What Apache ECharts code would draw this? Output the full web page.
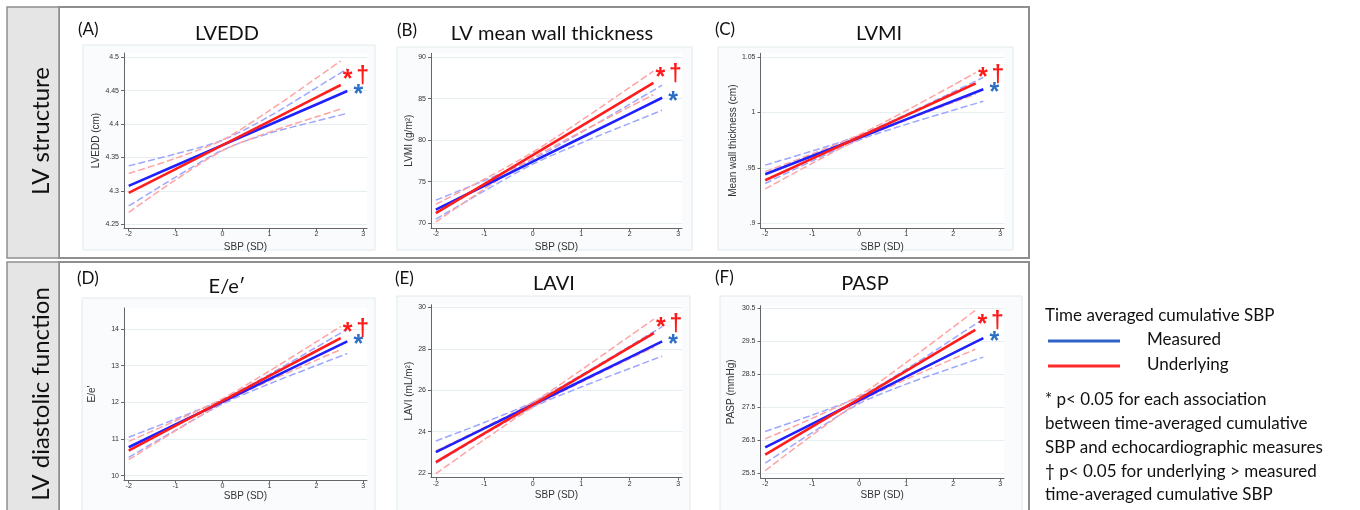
<!DOCTYPE html>
<html><head><meta charset="utf-8">
<script src="https://cdn.jsdelivr.net/npm/echarts@6/dist/echarts.min.js"></script>
<style>html,body{margin:0;padding:0;background:#fff}#c{width:1360px;height:510px}</style>
</head><body><div id="c"></div>
<script>
// ---------- data ----------
const xTicks = [-2, -1, 0, 1, 2, 3];

// (A) LVEDD
const aMX = [-2, -1, 0, 1, 2, 2.66];
const aM = [4.3075, 4.338, 4.3685, 4.399, 4.4294, 4.4495];
const aMLo = [4.2775, 4.3206, 4.361, 4.3863, 4.4045, 4.4161];
const aMHi = [4.3375, 4.3554, 4.376, 4.4117, 4.4543, 4.4829];
const aUX = [-2, -1, 0, 1, 2, 2.52];
const aU = [4.297, 4.3327, 4.3684, 4.4041, 4.4399, 4.4585];
const aULo = [4.268, 4.3166, 4.3604, 4.388, 4.4109, 4.4225];
const aUHi = [4.326, 4.3488, 4.3764, 4.4202, 4.4689, 4.4945];
const aTicks = [4.25, 4.3, 4.35, 4.4, 4.45, 4.5];
const aTickLabels = ['4.25', '4.3', '4.35', '4.4', '4.45', '4.5'];

// (B) LV mean wall thickness
const bMX = [-2, -1, 0, 1, 2, 2.67];
const bM = [71.61, 74.50, 77.40, 80.29, 83.18, 85.12];
const bMLo = [70.46, 73.87, 77.10, 79.66, 82.03, 83.61];
const bMHi = [72.76, 75.13, 77.70, 80.92, 84.33, 86.63];
const bUX = [-2, -1, 0, 1, 2, 2.49];
const bU = [71.2, 74.70, 78.19, 81.69, 85.19, 86.9];
const bULo = [70.13, 74.11, 77.84, 81.01, 84.02, 85.48];
const bUHi = [72.27, 75.29, 78.54, 82.37, 86.36, 88.32];
const bTicks = [70, 75, 80, 85, 90];
const bTickLabels = ['70', '75', '80', '85', '90'];

// (C) LVMI
const cMX = [-2, -1, 0, 1, 2, 2.64];
const cM = [0.9441, 0.9607, 0.9772, 0.9938, 1.0104, 1.021];
const cMLo = [0.9358, 0.9562, 0.9752, 0.9893, 1.0021, 1.0102];
const cMHi = [0.9524, 0.9652, 0.9792, 0.9983, 1.0187, 1.0318];
const cUX = [-2, -1, 0, 1, 2, 2.48];
const cU = [0.9387, 0.9583, 0.9779, 0.9974, 1.017, 1.0264];
const cULo = [0.9309, 0.954, 0.9759, 0.9931, 1.0092, 1.0167];
const cUHi = [0.9465, 0.9626, 0.9799, 1.0017, 1.0248, 1.0361];
const cTicks = [0.9, 0.95, 1, 1.05];
const cTickLabels = ['.9', '.95', '1', '1.05'];

// (D) E/e'
const dMX = [-2, -1, 0, 1, 2, 2.66];
const dM = [10.774, 11.394, 12.014, 12.634, 13.254, 13.663];
const dMLo = [10.50, 11.242, 11.953, 12.505, 13.005, 13.332];
const dMHi = [11.048, 11.546, 12.075, 12.763, 13.503, 13.994];
const dUX = [-2, -1, 0, 1, 2, 2.52];
const dU = [10.683, 11.362, 12.042, 12.721, 13.401, 13.754];
const dULo = [10.433, 11.227, 11.982, 12.586, 13.151, 13.439];
const dUHi = [10.933, 11.497, 12.102, 12.856, 13.651, 14.069];
const dTicks = [10, 11, 12, 13, 14];
const dTickLabels = ['10', '11', '12', '13', '14'];

// (E) LAVI
const eMX = [-2, -1, 0, 1, 2, 2.67];
const eM = [23.014, 24.158, 25.303, 26.447, 27.591, 28.358];
const eMLo = [22.474, 23.869, 25.183, 26.158, 27.051, 27.648];
const eMHi = [23.554, 24.447, 25.423, 26.736, 28.131, 29.068];
const eUX = [-2, -1, 0, 1, 2, 2.5];
const eU = [22.53, 23.914, 25.299, 26.683, 28.068, 28.76];
const eULo = [21.98, 23.62, 25.179, 26.389, 27.518, 28.08];
const eUHi = [23.08, 24.208, 25.419, 26.977, 28.618, 29.44];
const eTicks = [22, 24, 26, 28, 30];
const eTickLabels = ['22', '24', '26', '28', '30'];

// (F) PASP
const fMX = [-2, -1, 0, 1, 2, 2.64];
const fM = [26.278, 26.992, 27.706, 28.42, 29.134, 29.59];
const fMLo = [25.798, 26.726, 27.604, 28.195, 28.698, 29.013];
const fMHi = [26.758, 27.258, 27.808, 28.645, 29.57, 30.167];
const fUX = [-2, -1, 0, 1, 2, 2.47];
const fU = [26.056, 26.903, 27.749, 28.596, 29.442, 29.84];
const fULo = [25.576, 26.648, 27.649, 28.341, 28.962, 29.252];
const fUHi = [26.536, 27.158, 27.849, 28.851, 29.922, 30.428];
const fTicks = [25.5, 26.5, 27.5, 28.5, 29.5, 30.5];
const fTickLabels = ['25.5', '26.5', '27.5', '28.5', '29.5', '30.5'];

const panelTitles = ['LVEDD', 'LV mean wall thickness', 'LVMI', 'E/e\u2032', 'LAVI', 'PASP'];
const panelLetters = ['(A)', '(B)', '(C)', '(D)', '(E)', '(F)'];
const yNames = ['LVEDD (cm)', 'LVMI (g/m\u00b2)', 'Mean wall thickness (cm)', "E/e'", 'LAVI (mL/m\u00b2)', 'PASP (mmHg)'];
const xName = 'SBP (SD)';
const sectionLabels = ['LV structure', 'LV diastolic function'];
const legendTitle = 'Time averaged cumulative SBP';
const legendNames = ['Measured', 'Underlying'];
const footnotes = ['* p< 0.05 for each association', 'between time-averaged cumulative',
  'SBP and echocardiographic measures', '\u2020 p< 0.05 for underlying > measured',
  'time-averaged cumulative SBP'];

const panels = [
  {mX: aMX, m: aM, mLo: aMLo, mHi: aMHi, uX: aUX, u: aU, uLo: aULo, uHi: aUHi, ticks: aTicks, labels: aTickLabels},
  {mX: bMX, m: bM, mLo: bMLo, mHi: bMHi, uX: bUX, u: bU, uLo: bULo, uHi: bUHi, ticks: bTicks, labels: bTickLabels},
  {mX: cMX, m: cM, mLo: cMLo, mHi: cMHi, uX: cUX, u: cU, uLo: cULo, uHi: cUHi, ticks: cTicks, labels: cTickLabels},
  {mX: dMX, m: dM, mLo: dMLo, mHi: dMHi, uX: dUX, u: dU, uLo: dULo, uHi: dUHi, ticks: dTicks, labels: dTickLabels},
  {mX: eMX, m: eM, mLo: eMLo, mHi: eMHi, uX: eUX, u: eU, uLo: eULo, uHi: eUHi, ticks: eTicks, labels: eTickLabels},
  {mX: fMX, m: fM, mLo: fMLo, mHi: fMHi, uX: fUX, u: fU, uLo: fULo, uHi: fUHi, ticks: fTicks, labels: fTickLabels}
];

// ---------- layout / style ----------
const layout = [
  {l: 124, r: 367, t: 53, b: 228, yMin: 4.2445, yMax: 4.5064, yGap: 23, xGap: 14, tx: 227, ty: 34, lx: 78, ly: 30, bg: [83, 45, 375, 250]},
  {l: 431, r: 682, t: 53.3, b: 228, yMin: 69.4, yMax: 90.48, yGap: 14, xGap: 14, tx: 552, ty: 34, lx: 397, ly: 31, bg: [397, 47, 692, 250]},
  {l: 760.5, r: 1004, t: 53.3, b: 228, yMin: 0.8955, yMax: 1.0536, yGap: 22, xGap: 14, tx: 879, ty: 34, lx: 715, ly: 30, bg: [718, 47, 1013, 250]},
  {l: 124, r: 367, t: 308, b: 480, yMin: 9.88, yMax: 14.574, yGap: 27, xGap: 11, tx: 227, ty: 287, lx: 77, ly: 279, bg: [82, 298, 375, 512]},
  {l: 431, r: 682, t: 304.7, b: 477.5, yMin: 21.79, yMax: 30.13, yGap: 17, xGap: 13, tx: 554, ty: 284, lx: 395, ly: 279, bg: [397, 296, 690, 512]},
  {l: 760.5, r: 1004, t: 305.7, b: 478, yMin: 25.35, yMax: 30.57, yGap: 24, xGap: 12, tx: 865, ty: 284, lx: 715, ly: 278, bg: [720, 296, 1022, 512]}
];
const X_MIN = -2.1, X_MAX = 3.08;
const BLUE = '#2020ff', RED = '#ff1c1c', BLUE_CI = '#9ea7ff', RED_CI = '#ffa3a3';
const STAR_BLUE = '#2a6fc4', STAR_RED = '#ff1a1a';
const TICK_FONT = 'Liberation Sans';

const grids = [], xAxes = [], yAxes = [], series = [], graphics = [];

function pairs(xs, ys) { return xs.map((x, i) => [x, ys[i]]); }
function labelFor(p) {
  return v => {
    let best = 0;
    p.ticks.forEach((t, i) => { if (Math.abs(t - v) < Math.abs(p.ticks[best] - v)) best = i; });
    return p.labels[best];
  };
}
function sigMark(xs, ys, items) {
  const n = xs.length - 1;
  return {
    symbol: 'circle', symbolSize: 1, silent: true,
    itemStyle: {color: 'rgba(0,0,0,0)'},
    data: items.map(it => ({
      coord: [xs[n], ys[n]],
      label: {show: true, position: 'inside', formatter: it.t, color: it.c, fontSize: it.s,
        fontWeight: 'bold', fontFamily: 'Liberation Sans', offset: it.o}
    }))
  };
}

panels.forEach((p, i) => {
  const L = layout[i];
  grids.push({left: L.l, top: L.t, width: L.r - L.l, height: L.b - L.t, show: true,
    backgroundColor: '#ffffff', borderWidth: 0, containLabel: false});
  xAxes.push({
    type: 'value', gridIndex: i, min: X_MIN, max: X_MAX,
    name: xName, nameLocation: 'middle', nameGap: L.xGap,
    nameTextStyle: {fontSize: 10, color: '#333', fontFamily: TICK_FONT},
    axisLine: {show: true, onZero: false, lineStyle: {color: '#666', width: 1}},
    axisTick: {show: true, length: 3, customValues: xTicks, lineStyle: {color: '#666'}},
    axisLabel: {customValues: xTicks, fontSize: 7, color: '#333', margin: 3, fontFamily: TICK_FONT},
    splitLine: {show: false}
  });
  yAxes.push({
    type: 'value', gridIndex: i, min: L.yMin, max: L.yMax,
    name: yNames[i], nameLocation: 'middle', nameGap: L.yGap, nameRotate: 90,
    nameTextStyle: {fontSize: 10, color: '#333', fontFamily: TICK_FONT},
    axisLine: {show: true, onZero: false, lineStyle: {color: '#666', width: 1}},
    axisTick: {show: true, length: 3, customValues: p.ticks, lineStyle: {color: '#666'}},
    axisLabel: {customValues: p.ticks, fontSize: 7, color: '#333', margin: 5, fontFamily: TICK_FONT,
      formatter: labelFor(p)},
    splitLine: {show: true, lineStyle: {color: '#e6eef1', width: 1}}
  });
  const base = {type: 'line', xAxisIndex: i, yAxisIndex: i, showSymbol: false, silent: true, animation: false};
  const dash = {type: [7, 3], width: 1.5};
  series.push(Object.assign({}, base, {data: pairs(p.mX, p.mHi), smooth: 0.3, z: 2, lineStyle: Object.assign({color: BLUE_CI}, dash)}));
  series.push(Object.assign({}, base, {data: pairs(p.mX, p.mLo), smooth: 0.3, z: 2, lineStyle: Object.assign({color: BLUE_CI}, dash)}));
  series.push(Object.assign({}, base, {data: pairs(p.uX, p.uHi), smooth: 0.3, z: 2, lineStyle: Object.assign({color: RED_CI}, dash)}));
  series.push(Object.assign({}, base, {data: pairs(p.uX, p.uLo), smooth: 0.3, z: 2, lineStyle: Object.assign({color: RED_CI}, dash)}));
  series.push(Object.assign({}, base, {name: legendNames[0], data: pairs(p.mX, p.m), z: 3,
    lineStyle: {color: BLUE, width: 2.6},
    markPoint: sigMark(p.mX, p.m, [{t: '*', c: STAR_BLUE, s: 25, o: [11, 4]}])}));
  series.push(Object.assign({}, base, {name: legendNames[1], data: pairs(p.uX, p.u), z: 4,
    lineStyle: {color: RED, width: 2.6},
    markPoint: sigMark(p.uX, p.u, [{t: '*', c: STAR_RED, s: 25, o: [7, -5]}, {t: '\u2020', c: STAR_RED, s: 23, o: [22, -8]}])}));

  graphics.push({type: 'rect', z: -10, shape: {x: L.bg[0], y: L.bg[1], width: L.bg[2] - L.bg[0], height: L.bg[3] - L.bg[1]},
    style: {fill: '#f9fbfc', stroke: '#e1eaed', lineWidth: 1}});
  graphics.push({type: 'text', z: 10, x: L.tx, y: L.ty, style: {text: panelTitles[i], font: '20px Lato', fill: '#111',
    textAlign: 'center', textVerticalAlign: 'middle'}});
  graphics.push({type: 'text', z: 10, x: L.lx, y: L.ly, style: {text: panelLetters[i], font: '17px Lato', fill: '#111',
    textAlign: 'left', textVerticalAlign: 'middle'}});
});

// frames and section labels
[[7, 258], [262, 520]].forEach((r, k) => {
  graphics.push({type: 'rect', z: -20, shape: {x: 59, y: r[0], width: 970, height: r[1] - r[0]},
    style: {fill: '#ffffff', stroke: '#8e8e8e', lineWidth: 2}});
  graphics.push({type: 'rect', z: -20, shape: {x: 7, y: r[0], width: 52, height: r[1] - r[0]},
    style: {fill: '#e5e5e5', stroke: '#8e8e8e', lineWidth: 1.5}});
  graphics.push({type: 'text', z: 10, x: 41, y: k === 0 ? 131 : 394, rotation: Math.PI / 2,
    style: {text: sectionLabels[k], font: '24px Lato', fill: '#111', textAlign: 'center', textVerticalAlign: 'middle'}});
});

// legend
graphics.push({type: 'text', x: 1045, y: 316, style: {text: legendTitle, font: '17px Lato', fill: '#111', textVerticalAlign: 'middle'}});
graphics.push({type: 'line', shape: {x1: 1048, y1: 341, x2: 1120, y2: 341}, style: {stroke: '#2f62c4', lineWidth: 3}});
graphics.push({type: 'line', shape: {x1: 1048, y1: 366, x2: 1120, y2: 366}, style: {stroke: '#ff2a2a', lineWidth: 3}});
graphics.push({type: 'text', x: 1147, y: 340, style: {text: legendNames[0], font: '17px Lato', fill: '#111', textVerticalAlign: 'middle'}});
graphics.push({type: 'text', x: 1147, y: 365, style: {text: legendNames[1], font: '17px Lato', fill: '#111', textVerticalAlign: 'middle'}});
const footY = [400, 424, 448, 472, 495];
footnotes.forEach((t, k) => {
  graphics.push({type: 'text', x: 1045, y: footY[k], style: {text: t, font: '17px Lato', fill: '#111', textVerticalAlign: 'middle'}});
});

const chart = echarts.init(document.getElementById('c'), null, {renderer: 'canvas'});
chart.setOption({
  animation: false,
  backgroundColor: '#ffffff',
  grid: grids, xAxis: xAxes, yAxis: yAxes, series: series, graphic: graphics
});
</script></body></html>
